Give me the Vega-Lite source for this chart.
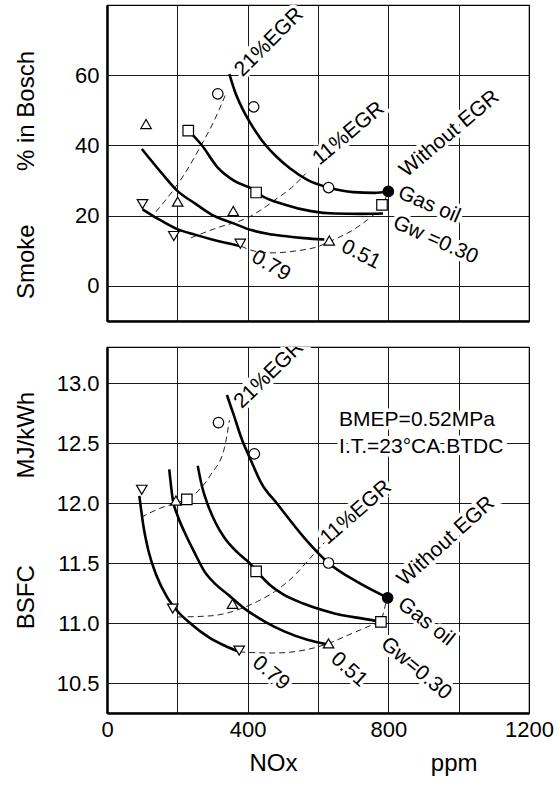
{
  "$schema": "https://vega.github.io/schema/vega-lite/v6.json",
  "padding": {"left": 13, "top": 4, "right": 0, "bottom": 0},
  "background": "white",
  "config": {
    "view": {"stroke": "black", "strokeWidth": 1.2},
    "font": "Liberation Sans",
    "axis": {
      "domainColor": "black", "domainWidth": 2.5,
      "gridColor": "black", "gridWidth": 0.9, "gridOpacity": 1,
      "ticks": false,
      "labelFont": "Liberation Sans", "labelFontSize": 22, "labelColor": "black",
      "labelFlush": false, "labelOverlap": false,
      "titleFont": "Liberation Sans", "titleFontSize": 24, "titleFontWeight": "normal", "titleColor": "black"
    }
  },
  "datasets": {
    "smoke_solid": [
      {"s":"gas","nox":348,"val":60.3},{"s":"gas","nox":365,"val":55},{"s":"gas","nox":385,"val":50.5},{"s":"gas","nox":410,"val":46},{"s":"gas","nox":440,"val":41.5},{"s":"gas","nox":480,"val":37},{"s":"gas","nox":520,"val":33.5},{"s":"gas","nox":570,"val":30.2},{"s":"gas","nox":630,"val":28},{"s":"gas","nox":700,"val":26.7},{"s":"gas","nox":760,"val":26.5},{"s":"gas","nox":800,"val":26.9},
      {"s":"g30","nox":231,"val":44.3},{"s":"g30","nox":267,"val":40.4},{"s":"g30","nox":315,"val":33.7},{"s":"g30","nox":362,"val":29.9},{"s":"g30","nox":419,"val":27.3},{"s":"g30","nox":438,"val":25.8},{"s":"g30","nox":504,"val":23.2},{"s":"g30","nox":580,"val":21.3},{"s":"g30","nox":647,"val":20.6},{"s":"g30","nox":720,"val":20.5},{"s":"g30","nox":785,"val":20.6},
      {"s":"g51","nox":99,"val":39},{"s":"g51","nox":154,"val":32.3},{"s":"g51","nox":201,"val":27},{"s":"g51","nox":250,"val":23.5},{"s":"g51","nox":296,"val":20.4},{"s":"g51","nox":360,"val":17.8},{"s":"g51","nox":410,"val":15.9},{"s":"g51","nox":460,"val":14.8},{"s":"g51","nox":504,"val":14.2},{"s":"g51","nox":560,"val":13.6},{"s":"g51","nox":618,"val":13.2},
      {"s":"g79","nox":101,"val":21.8},{"s":"g79","nox":140,"val":19.4},{"s":"g79","nox":201,"val":16.1},{"s":"g79","nox":250,"val":14.6},{"s":"g79","nox":296,"val":13.3},{"s":"g79","nox":340,"val":12.2},{"s":"g79","nox":381,"val":11.3}
    ],
    "smoke_dash": [
      {"s":"d21","nox":139,"val":21.1},{"s":"d21","nox":172,"val":25.1},{"s":"d21","nox":220,"val":31.8},{"s":"d21","nox":267,"val":39.9},{"s":"d21","nox":305,"val":47.1},{"s":"d21","nox":338,"val":54.7},
      {"s":"d11","nox":239,"val":13.7},{"s":"d11","nox":315,"val":16.6},{"s":"d11","nox":400,"val":19.4},{"s":"d11","nox":485,"val":25},{"s":"d11","nox":525,"val":28},{"s":"d11","nox":565,"val":32},
      {"s":"d0","nox":381,"val":11.3},{"s":"d0","nox":420,"val":9.9},{"s":"d0","nox":466,"val":9.4},{"s":"d0","nox":540,"val":10},{"s":"d0","nox":600,"val":11.2},{"s":"d0","nox":632,"val":12.6},{"s":"d0","nox":694,"val":15.6},{"s":"d0","nox":740,"val":18.8},{"s":"d0","nox":770,"val":21.5},{"s":"d0","nox":790,"val":24.5},{"s":"d0","nox":800,"val":26.9}
    ],
    "smoke_pts": [
      {"sym":"circle","nox":315,"val":54.7},{"sym":"circle","nox":417,"val":51},{"sym":"circle","nox":630,"val":28},{"sym":"filled","nox":800,"val":26.9},
      {"sym":"square","nox":231,"val":44.2},{"sym":"square","nox":424,"val":26.6},{"sym":"square","nox":782,"val":23.1},
      {"sym":"up","nox":111,"val":46.1},{"sym":"up","nox":201,"val":24},{"sym":"up","nox":359,"val":21.3},{"sym":"up","nox":632,"val":12.9},
      {"sym":"down","nox":101,"val":23.3},{"sym":"down","nox":190,"val":14.2},{"sym":"down","nox":379,"val":12}
    ],
    "smoke_txt": [
      {"t":"21%EGR","nox":461,"val":69.4,"a":-45},
      {"t":"11%EGR","nox":687,"val":43.4,"a":-40},
      {"t":"Without EGR","nox":974,"val":43.3,"a":-40},
      {"t":"Gas oil","nox":916,"val":23.1,"a":23},
      {"t":"Gw =0.30","nox":934,"val":13,"a":24},
      {"t":"0.51","nox":722,"val":8.9,"a":27},
      {"t":"0.79","nox":466,"val":5.7,"a":30}
    ],
    "bsfc_solid": [
      {"s":"gas","nox":341,"val":12.9},{"s":"gas","nox":362,"val":12.72},{"s":"gas","nox":381,"val":12.55},{"s":"gas","nox":410,"val":12.35},{"s":"gas","nox":438,"val":12.17},{"s":"gas","nox":485,"val":11.99},{"s":"gas","nox":561,"val":11.71},{"s":"gas","nox":630,"val":11.5},{"s":"gas","nox":713,"val":11.34},{"s":"gas","nox":798,"val":11.21},
      {"s":"g30","nox":258,"val":12.31},{"s":"g30","nox":270,"val":12.14},{"s":"g30","nox":286,"val":11.99},{"s":"g30","nox":308,"val":11.84},{"s":"g30","nox":334,"val":11.71},{"s":"g30","nox":370,"val":11.59},{"s":"g30","nox":405,"val":11.5},{"s":"g30","nox":435,"val":11.4},{"s":"g30","nox":466,"val":11.31},{"s":"g30","nox":500,"val":11.24},{"s":"g30","nox":560,"val":11.16},{"s":"g30","nox":647,"val":11.08},{"s":"g30","nox":741,"val":11.03},{"s":"g30","nox":779,"val":11.01},
      {"s":"g51","nox":177,"val":12.28},{"s":"g51","nox":187,"val":12.03},{"s":"g51","nox":200,"val":11.9},{"s":"g51","nox":220,"val":11.76},{"s":"g51","nox":250,"val":11.58},{"s":"g51","nox":277,"val":11.43},{"s":"g51","nox":310,"val":11.32},{"s":"g51","nox":343,"val":11.24},{"s":"g51","nox":391,"val":11.12},{"s":"g51","nox":450,"val":11.01},{"s":"g51","nox":504,"val":10.93},{"s":"g51","nox":570,"val":10.86},{"s":"g51","nox":630,"val":10.82},
      {"s":"g79","nox":92,"val":12.06},{"s":"g79","nox":104,"val":11.8},{"s":"g79","nox":118,"val":11.6},{"s":"g79","nox":140,"val":11.4},{"s":"g79","nox":170,"val":11.22},{"s":"g79","nox":200,"val":11.1},{"s":"g79","nox":240,"val":10.99},{"s":"g79","nox":290,"val":10.88},{"s":"g79","nox":335,"val":10.81},{"s":"g79","nox":376,"val":10.76}
    ],
    "bsfc_dash": [
      {"s":"d21","nox":97,"val":11.88},{"s":"d21","nox":154,"val":11.96},{"s":"d21","nox":196,"val":12.0},{"s":"d21","nox":248,"val":12.07},{"s":"d21","nox":296,"val":12.24},{"s":"d21","nox":334,"val":12.46},{"s":"d21","nox":348,"val":12.69},
      {"s":"d11","nox":201,"val":11.05},{"s":"d11","nox":296,"val":11.06},{"s":"d11","nox":381,"val":11.12},{"s":"d11","nox":428,"val":11.18},{"s":"d11","nox":476,"val":11.26},{"s":"d11","nox":520,"val":11.36},{"s":"d11","nox":590,"val":11.58},{"s":"d11","nox":618,"val":11.67},
      {"s":"d0","nox":376,"val":10.76},{"s":"d0","nox":400,"val":10.755},{"s":"d0","nox":476,"val":10.75},{"s":"d0","nox":571,"val":10.78},{"s":"d0","nox":630,"val":10.83},{"s":"d0","nox":694,"val":10.91},{"s":"d0","nox":750,"val":10.98},{"s":"d0","nox":779,"val":11.02},{"s":"d0","nox":789,"val":11.12},{"s":"d0","nox":797,"val":11.21}
    ],
    "bsfc_pts": [
      {"sym":"circle","nox":317,"val":12.67},{"sym":"circle","nox":419,"val":12.41},{"sym":"circle","nox":630,"val":11.5},{"sym":"filled","nox":798,"val":11.21},
      {"sym":"square","nox":227,"val":12.03},{"sym":"square","nox":424,"val":11.43},{"sym":"square","nox":779,"val":11.01},
      {"sym":"up","nox":196,"val":12.02},{"sym":"up","nox":357,"val":11.16},{"sym":"up","nox":630,"val":10.83},
      {"sym":"down","nox":99,"val":12.11},{"sym":"down","nox":187,"val":11.12},{"sym":"down","nox":376,"val":10.77}
    ],
    "bsfc_txt": [
      {"t":"21%EGR","nox":461,"val":13.07,"a":-44},
      {"t":"11%EGR","nox":708,"val":11.92,"a":-41},
      {"t":"Without EGR","nox":964,"val":11.68,"a":-42},
      {"t":"Gas oil","nox":907,"val":11.01,"a":38},
      {"t":"Gw=0.30","nox":879,"val":10.62,"a":40},
      {"t":"0.51","nox":688,"val":10.61,"a":42},
      {"t":"0.79","nox":466,"val":10.58,"a":40}
    ],
    "bsfc_note": [
      {"t":"BMEP=0.52MPa","nox":660,"val":12.69},
      {"t":"I.T.=23°CA.BTDC","nox":660,"val":12.47}
    ]
  },
  "spacing": 24,
  "vconcat": [
    {
      "width": 422, "height": 316,
      "encoding": {
        "x": {"field": "nox", "type": "quantitative",
              "scale": {"domain": [0, 1200], "nice": false},
              "axis": {"values": [0,200,400,600,800,1000,1200], "labels": false, "title": null, "grid": true}},
        "y": {"field": "val", "type": "quantitative",
              "scale": {"domain": [-10, 80], "nice": false, "zero": false},
              "axis": {"values": [0,20,40,60], "labelPadding": 8,
                       "title": "Smoke\u00a0\u00a0\u00a0\u00a0\u00a0\u00a0\u00a0\u00a0% in Bosch",
                       "titleX": -81, "titleY": 169.5, "titleAngle": 270, "titleAlign": "center", "titleBaseline": "middle"}}
      },
      "layer": [
        {"data": {"name": "smoke_txt"}, "mark": {"type": "text", "clip": true, "font": "Liberation Sans", "fontSize": 21, "stroke": "white", "strokeWidth": 7, "fill": "white", "align": "center", "baseline": "middle"},
         "encoding": {"text": {"field": "t"}, "angle": {"field": "a", "type": "quantitative", "scale": null}}},
        {"data": {"name": "smoke_dash"}, "mark": {"type": "line", "clip": true, "strokeDash": [6, 4], "strokeWidth": 1, "color": "#222", "interpolate": "monotone"},
         "encoding": {"detail": {"field": "s"}}},
        {"data": {"name": "smoke_solid"}, "mark": {"type": "line", "clip": true, "strokeWidth": 2.6, "color": "black", "interpolate": "monotone"},
         "encoding": {"detail": {"field": "s"}}},
        {"data": {"name": "smoke_pts"}, "mark": {"type": "point", "filled": true, "stroke": "black", "strokeWidth": 1.2, "opacity": 1},
         "encoding": {
           "shape": {"field": "sym", "type": "nominal", "scale": {"domain": ["circle","filled","square","up","down"], "range": ["circle","circle","square","triangle-up","triangle-down"]}, "legend": null},
           "fill": {"field": "sym", "type": "nominal", "scale": {"domain": ["circle","filled","square","up","down"], "range": ["white","black","white","white","white"]}, "legend": null},
           "size": {"field": "sym", "type": "nominal", "scale": {"domain": ["circle","filled","square","up","down"], "range": [110,110,135,175,175]}, "legend": null}
         }},
        {"data": {"name": "smoke_txt"}, "mark": {"type": "text", "clip": true, "font": "Liberation Sans", "fontSize": 21, "color": "black", "align": "center", "baseline": "middle"},
         "encoding": {"text": {"field": "t"}, "angle": {"field": "a", "type": "quantitative", "scale": null}}}
      ]
    },
    {
      "width": 422, "height": 366,
      "encoding": {
        "x": {"field": "nox", "type": "quantitative",
              "scale": {"domain": [0, 1200], "nice": false},
              "axis": {"values": [0,200,400,600,800,1000,1200], "format": "d", "labelExpr": "datum.value % 400 == 0 ? datum.label : ''", "labelPadding": 6,
                       "title": "NOx\u00a0\u00a0\u00a0\u00a0\u00a0\u00a0\u00a0\u00a0\u00a0\u00a0\u00a0\u00a0\u00a0\u00a0\u00a0\u00a0\u00a0\u00a0\u00a0\u00a0ppm",
                       "titleX": 256, "titleY": 50, "titleAlign": "center", "titleBaseline": "middle"}},
        "y": {"field": "val", "type": "quantitative",
              "scale": {"domain": [10.25, 13.3], "nice": false, "zero": false},
              "axis": {"values": [10.5,11,11.5,12,12.5,13], "format": ".1f", "labelPadding": 8,
                       "title": "BSFC\u00a0\u00a0\u00a0\u00a0\u00a0\u00a0\u00a0\u00a0\u00a0\u00a0\u00a0\u00a0\u00a0MJ/kWh",
                       "titleX": -81, "titleY": 163, "titleAngle": 270, "titleAlign": "center", "titleBaseline": "middle"}}
      },
      "layer": [
        {"data": {"name": "bsfc_txt"}, "mark": {"type": "text", "clip": true, "font": "Liberation Sans", "fontSize": 21, "stroke": "white", "strokeWidth": 7, "fill": "white", "align": "center", "baseline": "middle"},
         "encoding": {"text": {"field": "t"}, "angle": {"field": "a", "type": "quantitative", "scale": null}}},
        {"data": {"name": "bsfc_note"}, "mark": {"type": "text", "clip": true, "font": "Liberation Sans", "fontSize": 21, "stroke": "white", "strokeWidth": 7, "fill": "white", "align": "left", "baseline": "middle"},
         "encoding": {"text": {"field": "t"}}},
        {"data": {"name": "bsfc_dash"}, "mark": {"type": "line", "clip": true, "strokeDash": [6, 4], "strokeWidth": 1, "color": "#222", "interpolate": "monotone"},
         "encoding": {"detail": {"field": "s"}}},
        {"data": {"name": "bsfc_solid"}, "mark": {"type": "line", "clip": true, "strokeWidth": 2.6, "color": "black", "interpolate": "monotone"},
         "encoding": {"detail": {"field": "s"}}},
        {"data": {"name": "bsfc_pts"}, "mark": {"type": "point", "filled": true, "stroke": "black", "strokeWidth": 1.2, "opacity": 1},
         "encoding": {
           "shape": {"field": "sym", "type": "nominal", "scale": {"domain": ["circle","filled","square","up","down"], "range": ["circle","circle","square","triangle-up","triangle-down"]}, "legend": null},
           "fill": {"field": "sym", "type": "nominal", "scale": {"domain": ["circle","filled","square","up","down"], "range": ["white","black","white","white","white"]}, "legend": null},
           "size": {"field": "sym", "type": "nominal", "scale": {"domain": ["circle","filled","square","up","down"], "range": [110,110,135,175,175]}, "legend": null}
         }},
        {"data": {"name": "bsfc_txt"}, "mark": {"type": "text", "clip": true, "font": "Liberation Sans", "fontSize": 21, "color": "black", "align": "center", "baseline": "middle"},
         "encoding": {"text": {"field": "t"}, "angle": {"field": "a", "type": "quantitative", "scale": null}}},
        {"data": {"name": "bsfc_note"}, "mark": {"type": "text", "clip": true, "font": "Liberation Sans", "fontSize": 21, "color": "black", "align": "left", "baseline": "middle"},
         "encoding": {"text": {"field": "t"}}}
      ]
    }
  ]
}
